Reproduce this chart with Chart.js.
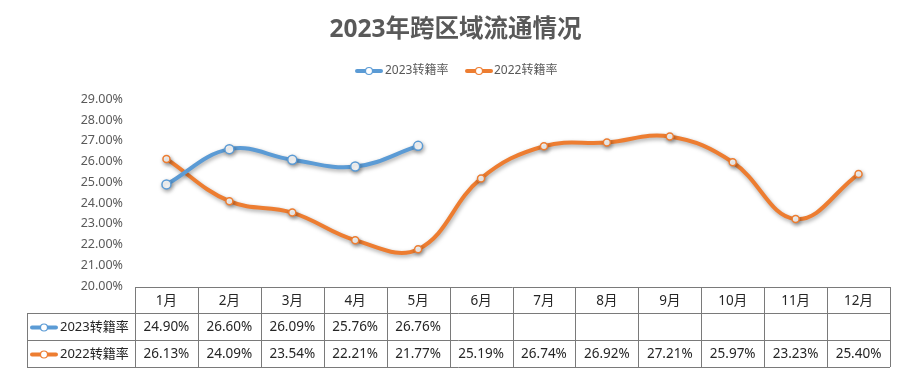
<!DOCTYPE html>
<html>
<head>
<meta charset="utf-8">
<script src="https://cdn.jsdelivr.net/npm/chart.js@4"></script>
<style>
  html, body { margin: 0; padding: 0; background: #fff; }
  #wrap { width: 915px; height: 389px; }
</style>
</head>
<body>
<div id="wrap"><canvas id="chart" width="915" height="389"></canvas></div>
<script>
// --- DATOS ---
const meses = ['1月', '2月', '3月', '4月', '5月', '6月', '7月', '8月', '9月', '10月', '11月', '12月'];
const nombres = ['2023转籍率', '2022转籍率'];
const tasa2023 = [24.90, 26.60, 26.09, 25.76, 26.76, null, null, null, null, null, null, null];
const tasa2022 = [26.13, 24.09, 23.54, 22.21, 21.77, 25.19, 26.74, 26.92, 27.21, 25.97, 23.23, 25.40];
const colores = ['#5B9BD5', '#ED7D31'];
const titulo = '2023年跨区域流通情况';

const FONT = '"Noto Sans", "Noto Sans CJK SC", sans-serif';
const GRIS = '#595959';

function iconoSerie(ctx, x, y, color, r) {
    ctx.save();
    ctx.strokeStyle = color;
    ctx.lineWidth = 4;
    ctx.lineCap = 'round';
    ctx.beginPath();
    ctx.moveTo(x - 12, y);
    ctx.lineTo(x + 12, y);
    ctx.stroke();
    ctx.beginPath();
    ctx.arc(x, y, r, 0, Math.PI * 2);
    ctx.fillStyle = '#fff';
    ctx.fill();
    ctx.lineWidth = 1.2;
    ctx.stroke();
    ctx.restore();
}

// sombra de las líneas
const sombraPlugin = {
    id: 'sombra',
    beforeDatasetDraw(chart) {
        const ctx = chart.ctx;
        ctx.save();
        ctx.shadowColor = 'rgba(0,0,0,0.35)';
        ctx.shadowBlur = 4;
        ctx.shadowOffsetX = 1;
        ctx.shadowOffsetY = 2;
    },
    afterDatasetDraw(chart) {
        chart.ctx.restore();
    }
};

// leyenda + tabla de datos
const tablaPlugin = {
    id: 'tabla',
    afterDraw(chart) {
        const ctx = chart.ctx;
        const area = chart.chartArea;
        const x = chart.scales.x;

        // leyenda
        ctx.save();
        ctx.font = '12px ' + FONT;
        ctx.fillStyle = GRIS;
        ctx.textBaseline = 'middle';
        ctx.textAlign = 'left';
        const ly = 71;
        iconoSerie(ctx, 369, ly, colores[0], 3.5);
        ctx.fillText(nombres[0], 385, ly);
        iconoSerie(ctx, 479, ly, colores[1], 3.5);
        ctx.fillText(nombres[1], 494, ly);
        ctx.restore();

        // tabla
        const colW = (area.right - area.left) / meses.length;
        const top = area.bottom + 1;
        const filas = [top, top + 26, top + 53, top + 80];
        const izq = 27;

        ctx.save();
        ctx.strokeStyle = '#7a7a7a';
        ctx.lineWidth = 1;
        ctx.beginPath();
        ctx.moveTo(area.left, filas[0] + 0.5); ctx.lineTo(area.right, filas[0] + 0.5);
        for (let i = 1; i < 4; i++) {
            ctx.moveTo(izq, filas[i] + 0.5); ctx.lineTo(area.right, filas[i] + 0.5);
        }
        for (let c = 0; c <= meses.length; c++) {
            const px = Math.round(area.left + c * colW) + 0.5;
            ctx.moveTo(px, filas[0]); ctx.lineTo(px, filas[3]);
        }
        ctx.moveTo(izq + 0.5, filas[1]); ctx.lineTo(izq + 0.5, filas[3]);
        ctx.stroke();

        ctx.font = '13.5px ' + FONT;
        ctx.fillStyle = '#262626';
        ctx.textAlign = 'center';
        ctx.textBaseline = 'middle';
        meses.forEach((m, i) => {
            const cx = x.getPixelForValue(i);
            ctx.fillText(m, cx, (filas[0] + filas[1]) / 2 + 1);
            const v1 = tasa2023[i];
            if (v1 != null) ctx.fillText(v1.toFixed(2) + '%', cx, (filas[1] + filas[2]) / 2 + 1);
            const v2 = tasa2022[i];
            if (v2 != null) ctx.fillText(v2.toFixed(2) + '%', cx, (filas[2] + filas[3]) / 2 + 1);
        });

        ctx.font = '13px ' + FONT;
        ctx.textAlign = 'left';
        [0, 1].forEach(k => {
            const cy = (filas[k + 1] + filas[k + 2]) / 2 + 1;
            iconoSerie(ctx, 44, cy, colores[k], 3.5);
            ctx.fillText(nombres[k], 60, cy);
        });
        ctx.restore();
    }
};

const ctx = document.getElementById('chart').getContext('2d');
const grafico = new Chart(ctx, {
    type: 'line',
    data: {
        labels: meses,
        datasets: [
            {
                label: nombres[0],
                data: tasa2023,
                borderColor: colores[0],
                backgroundColor: '#fff',
                borderWidth: 4,
                pointRadius: 4.5,
                pointBorderWidth: 1.5,
                pointBackgroundColor: '#fff',
                pointBorderColor: colores[0],
                tension: 0.4,
                spanGaps: false
            },
            {
                label: nombres[1],
                data: tasa2022,
                borderColor: colores[1],
                backgroundColor: '#fff',
                borderWidth: 4,
                pointRadius: 3.5,
                pointBorderWidth: 1.5,
                pointBackgroundColor: '#fff',
                pointBorderColor: colores[1],
                tension: 0.4
            }
        ]
    },
    options: {
        responsive: false,
        animation: false,
        layout: {
            padding: { top: 0, right: 25, bottom: 103, left: 21 }
        },
        scales: {
            x: {
                type: 'category',
                offset: true,
                display: false
            },
            y: {
                min: 20,
                max: 29,
                afterFit(scale) { scale.width = 114; },
                grid: { display: false, drawTicks: false },
                border: { display: false },
                ticks: {
                    stepSize: 1,
                    padding: 12,
                    color: GRIS,
                    font: { size: 12.5, family: FONT },
                    callback: v => v.toFixed(2) + '%'
                }
            }
        },
        plugins: {
            legend: { display: false },
            tooltip: { enabled: false },
            title: {
                display: true,
                text: titulo,
                color: GRIS,
                font: { size: 24.5, weight: 'bold', family: FONT },
                padding: { top: 15, bottom: 55 }
            }
        }
    },
    plugins: [sombraPlugin, tablaPlugin]
});
</script>
</body>
</html>
